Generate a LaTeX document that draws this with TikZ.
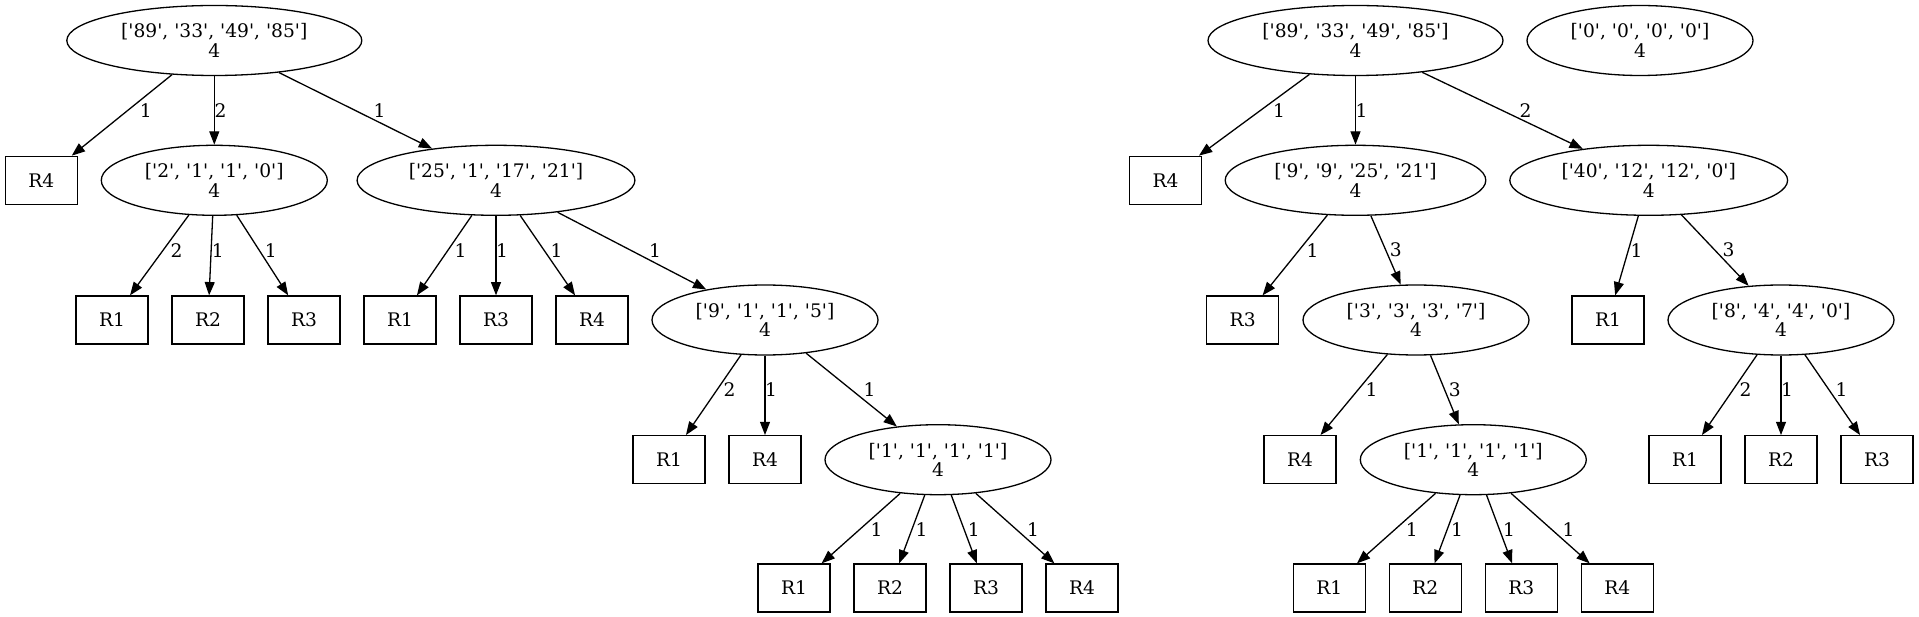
\documentclass[tikz,border=0pt]{standalone}
\usepackage{fontspec}
\newfontfamily\gvfont{DejaVu Serif}[Ligatures=TeXOff]
\usetikzlibrary{shapes.geometric,arrows.meta}
\begin{document}
\begin{tikzpicture}[x=1pt,y=-1pt,
  every node/.style={font=\gvfont\fontsize{18.67pt}{19.3pt}\selectfont, inner sep=0pt},
  ell/.style={draw, ellipse, line width=1.3pt, minimum height=70pt, align=center},
  box/.style={draw, rectangle, line width=1.3pt, minimum width=72pt, minimum height=48pt},
  edge/.style={line width=1.3pt, -{Triangle[length=13.3pt,width=10pt]}},
  lab/.style={anchor=west}]
\fill[white] (0,0) rectangle (1919,617);
\useasboundingbox (0,0) rectangle (1919,617);
% ---------- left tree ----------
\node[ell, minimum width=295pt] (a0) at (214.3,40.5) {['89', '33', '49', '85']\\4};
\node[box] (a1) at (41.3,180.3) {R4};
\node[ell, minimum width=226pt] (a2) at (214.3,180.3) {['2', '1', '1', '0']\\4};
\node[ell, minimum width=277.8pt] (a3) at (496,180.3) {['25', '1', '17', '21']\\4};
\node[box] (a21) at (112,320) {R1};
\node[box] (a22) at (208,320) {R2};
\node[box] (a23) at (304,320) {R3};
\node[box] (a31) at (400,320) {R1};
\node[box] (a32) at (496,320) {R3};
\node[box] (a33) at (592,320) {R4};
\node[ell, minimum width=226pt] (a34) at (765,320) {['9', '1', '1', '5']\\4};
\node[box] (a41) at (669,459.7) {R1};
\node[box] (a42) at (765,459.7) {R4};
\node[ell, minimum width=226pt] (a43) at (938,459.7) {['1', '1', '1', '1']\\4};
\node[box] (a51) at (794,588) {R1};
\node[box] (a52) at (890,588) {R2};
\node[box] (a53) at (986,588) {R3};
\node[box] (a54) at (1082,588) {R4};
% ---------- right tree ----------
\node[ell, minimum width=295pt] (b0) at (1355.5,40.5) {['89', '33', '49', '85']\\4};
\node[ell, minimum width=226pt] (c0) at (1640,40.5) {['0', '0', '0', '0']\\4};
\node[box] (b1) at (1165.5,180.3) {R4};
\node[ell, minimum width=260.6pt] (b2) at (1355.5,180.3) {['9', '9', '25', '21']\\4};
\node[ell, minimum width=277.8pt] (b3) at (1648.7,180.3) {['40', '12', '12', '0']\\4};
\node[box] (b21) at (1242.7,320) {R3};
\node[ell, minimum width=226pt] (b22) at (1416,320) {['3', '3', '3', '7']\\4};
\node[box] (b31) at (1608,320) {R1};
\node[ell, minimum width=226pt] (b32) at (1781,320) {['8', '4', '4', '0']\\4};
\node[box] (b221) at (1300,459.7) {R4};
\node[ell, minimum width=226pt] (b222) at (1473.3,459.7) {['1', '1', '1', '1']\\4};
\node[box] (b321) at (1685,459.7) {R1};
\node[box] (b322) at (1781,459.7) {R2};
\node[box] (b323) at (1877,459.7) {R3};
\node[box] (b51) at (1329.3,588) {R1};
\node[box] (b52) at (1425.3,588) {R2};
\node[box] (b53) at (1521.3,588) {R3};
\node[box] (b54) at (1617.3,588) {R4};
% ---------- edges left ----------
\draw[edge] (a0) -- (a1);
\draw[edge] (a0) -- (a2);
\draw[edge] (a0) -- (a3);
\draw[edge] (a2) -- (a21);
\draw[edge] (a2) -- (a22);
\draw[edge] (a2) -- (a23);
\draw[edge] (a3) -- (a31);
\draw[edge] (a3) -- (a32);
\draw[edge] (a3) -- (a33);
\draw[edge] (a3) -- (a34);
\draw[edge] (a34) -- (a41);
\draw[edge] (a34) -- (a42);
\draw[edge] (a34) -- (a43);
\draw[edge] (a43) -- (a51);
\draw[edge] (a43) -- (a52);
\draw[edge] (a43) -- (a53);
\draw[edge] (a43) -- (a54);
% ---------- edges right ----------
\draw[edge] (b0) -- (b1);
\draw[edge] (b0) -- (b2);
\draw[edge] (b0) -- (b3);
\draw[edge] (b2) -- (b21);
\draw[edge] (b2) -- (b22);
\draw[edge] (b3) -- (b31);
\draw[edge] (b3) -- (b32);
\draw[edge] (b22) -- (b221);
\draw[edge] (b22) -- (b222);
\draw[edge] (b32) -- (b321);
\draw[edge] (b32) -- (b322);
\draw[edge] (b32) -- (b323);
\draw[edge] (b222) -- (b51);
\draw[edge] (b222) -- (b52);
\draw[edge] (b222) -- (b53);
\draw[edge] (b222) -- (b54);
% ---------- labels left ----------
\node[lab] (la1) at (139.6,110.4) {1};
\node[lab] (la2) at (214.3,110.4) {2};
\node[lab] (la3) at (373.5,110.4) {1};
\node[lab] (la21) at (170.5,250.1) {2};
\node[lab] (la22) at (211.6,250.1) {1};
\node[lab] (la23) at (264.7,250.1) {1};
\node[lab] (la31) at (454.5,250.1) {1};
\node[lab] (la32) at (496,250.1) {1};
\node[lab] (la33) at (550.5,250.1) {1};
\node[lab] (la34) at (648.8,250.1) {1};
\node[lab] (la41) at (723.5,389.8) {2};
\node[lab] (la42) at (765,389.8) {1};
\node[lab] (la43) at (863.3,389.8) {1};
\node[lab] (la51) at (870.4,529.5) {1};
\node[lab] (la52) at (915.4,529.5) {1};
\node[lab] (la53) at (967.6,529.5) {1};
\node[lab] (la54) at (1027,529.5) {1};
% ---------- labels right ----------
\node[lab] (lb1) at (1273,110.4) {1};
\node[lab] (lb2) at (1355.5,110.4) {1};
\node[lab] (lb3) at (1519.5,110.4) {2};
\node[lab] (lb21) at (1306.5,250.1) {1};
\node[lab] (lb22) at (1389.7,250.1) {3};
\node[lab] (lb31) at (1630.5,250.1) {1};
\node[lab] (lb32) at (1722.5,250.1) {3};
\node[lab] (lb221) at (1365.5,389.8) {1};
\node[lab] (lb222) at (1448.7,389.8) {3};
\node[lab] (lb321) at (1739.3,389.8) {2};
\node[lab] (lb322) at (1781,389.8) {1};
\node[lab] (lb323) at (1835.3,389.8) {1};
\node[lab] (lb51) at (1405.7,529.5) {1};
\node[lab] (lb52) at (1450.8,529.5) {1};
\node[lab] (lb53) at (1503,529.5) {1};
\node[lab] (lb54) at (1562.3,529.5) {1};
\end{tikzpicture}
\end{document}
